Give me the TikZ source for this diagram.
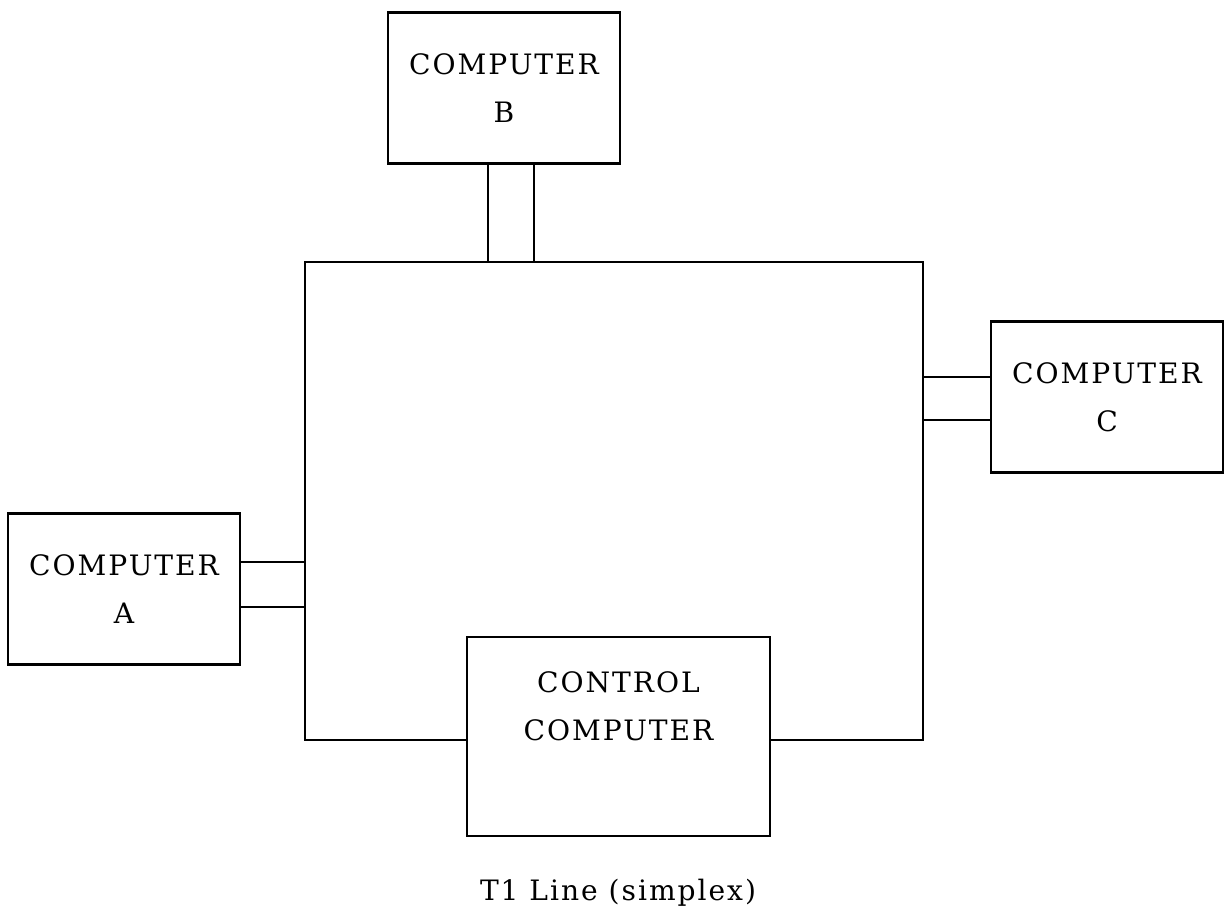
\documentclass[tikz,border=0pt]{standalone}
\usepackage{fontspec}
\setmainfont{DejaVu Serif}[LetterSpace=7]
\usepackage{tikz}
\usetikzlibrary{positioning}
\tikzstyle{every picture}+=[line width=1.4pt]
\tikzstyle{compbox}=[draw,rectangle,align=center,inner sep=0pt,minimum width=4.64cm,minimum height=3.02cm,font=\fontsize{16pt}{27.3pt}\selectfont]
\tikzstyle{txt}=[align=center,inner sep=0pt,font=\fontsize{16pt}{27.3pt}\selectfont]

\begin{document}
\begin{tikzpicture}
\useasboundingbox (0,0) rectangle (24.56,18.22);
% the loop
\coordinate (tl) at (6.10,12.98);
\coordinate (tr) at (18.46,12.98);
\coordinate (bl) at (6.10,3.42);
\coordinate (br) at (18.46,3.42);
% computers
\node[compbox] (compA) at (2.48,6.44) {COMPUTER\\A};
\node[compbox] (compB) at (10.08,16.46) {COMPUTER\\B};
\node[compbox] (compC) at (22.14,10.28) {COMPUTER\\C};
\node[compbox,minimum width=6.06cm,minimum height=3.98cm] (ctrl) at (12.37,3.49) {};
\node[txt] (ctrltxt) at ([yshift=0.61cm]ctrl.center) {CONTROL\\COMPUTER};
\draw (ctrl.west |- bl) -- (bl) -- (tl) -- (tr) -- (br) -- (ctrl.east |- br);
% T1 lines
\draw ([xshift=-0.32cm]compB.south) -- ([xshift=-0.32cm]compB.south |- tl);
\draw ([xshift=0.60cm]compB.south) -- ([xshift=0.60cm]compB.south |- tl);
\draw ([yshift=0.54cm]compA.east) -- ([yshift=0.54cm]compA.east -| tl);
\draw ([yshift=-0.36cm]compA.east) -- ([yshift=-0.36cm]compA.east -| tl);
\draw ([yshift=0.40cm]compC.west) -- ([yshift=0.40cm]compC.west -| tr);
\draw ([yshift=-0.46cm]compC.west) -- ([yshift=-0.46cm]compC.west -| tr);
\node[txt,anchor=base] (caption) at (12.36,0.20) {T1 Line (simplex)};
\end{tikzpicture}
\end{document}
